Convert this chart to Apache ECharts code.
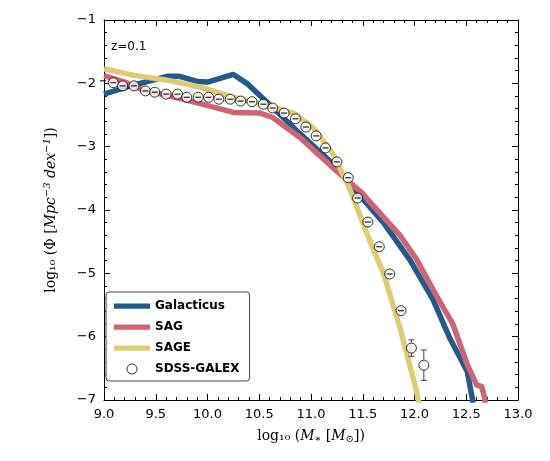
<!DOCTYPE html><html><head><meta charset="utf-8">
<script src="https://cdn.jsdelivr.net/npm/echarts@6/dist/echarts.min.js"></script>
<style>body{margin:0}#c{width:550px;height:461px}</style></head><body><div id="c"></div>
<script>
const galacticus=[[9.0,-2.17],[9.28,-2.03],[9.61,-1.89],[9.73,-1.89],[9.9,-1.97],[10.0,-1.98],[10.25,-1.86],[10.38,-2.0],[10.63,-2.38],[10.89,-2.79],[11.21,-3.27],[11.38,-3.6],[11.7,-4.2],[11.96,-4.8],[12.18,-5.42],[12.34,-6.02],[12.51,-6.55],[12.56,-6.99],[12.58,-7.3]];
const sag=[[9.0,-1.88],[9.2,-1.98],[9.38,-2.11],[9.61,-2.19],[9.93,-2.32],[10.25,-2.46],[10.51,-2.47],[10.63,-2.54],[10.89,-2.85],[11.21,-3.33],[11.5,-3.74],[11.54,-3.82],[11.86,-4.4],[12.02,-4.78],[12.18,-5.26],[12.37,-5.8],[12.51,-6.44],[12.6,-6.76],[12.65,-6.79],[12.68,-6.98],[12.69,-7.3]];
const sage=[[9.0,-1.77],[9.28,-1.87],[9.61,-1.95],[9.93,-2.06],[10.25,-2.22],[10.57,-2.35],[10.83,-2.47],[11.02,-2.7],[11.21,-3.11],[11.35,-3.58],[11.38,-3.69],[11.54,-4.37],[11.7,-5.0],[11.86,-5.86],[12.02,-6.86],[12.07,-7.3]];
const obsX=[8.99,9.09,9.18,9.29,9.40,9.49,9.60,9.71,9.80,9.91,10.01,10.11,10.22,10.32,10.43,10.54,10.63,10.74,10.85,10.95,11.05,11.14,11.25,11.36,11.45,11.55,11.66,11.76,11.87,11.97,12.09];
const obsY=[-1.96,-1.99,-2.04,-2.04,-2.12,-2.14,-2.17,-2.17,-2.22,-2.22,-2.22,-2.25,-2.25,-2.28,-2.29,-2.33,-2.39,-2.47,-2.56,-2.69,-2.83,-3.02,-3.24,-3.49,-3.81,-4.19,-4.58,-5.01,-5.59,-6.18,-6.45];
const obsErr=[0,0,0,0,0,0,0,0,0,0,0,0,0,0,0,0,0,0,0,0,0,0,0,0,0,0,0,0.01,0,0.13,0.24];
const obs=obsX.map((x,i)=>[x,obsY[i],obsErr[i]]);
const ch=echarts.init(document.getElementById('c'));
const lab={fontFamily:'DejaVu Sans',fontSize:13,color:'#000'};
const tk={inside:true,length:6,lineStyle:{color:'#000'}};
const mtk={show:true,length:3,lineStyle:{color:'#000'}};
const ax=(extra)=>Object.assign({axisLine:{show:true,onZero:false,lineStyle:{color:'#000',width:1}},axisTick:tk,minorTick:Object.assign({splitNumber:5},mtk),splitLine:{show:false}},extra);
const lineSer=(name,data,color)=>({name,type:'line',data,symbol:'none',lineStyle:{width:5.5,color,join:'round'},itemStyle:{color},z:2,clip:true});
ch.setOption({
 animation:false,
 grid:{left:104,right:32,top:20,bottom:61},
 title:{text:'z=0.1',left:106,top:36,textStyle:{fontFamily:'DejaVu Sans',fontSize:12,fontWeight:'normal',color:'#000'}},
 xAxis:[ax({type:'value',min:9,max:13,interval:0.5,axisLabel:Object.assign({formatter:v=>v.toFixed(1),margin:8},lab),
   name:'log₁₀ ({i|M}{s|∗} [{i|M}{s|⊙}])',nameLocation:'middle',nameGap:28,
   nameTextStyle:{fontFamily:'DejaVu Serif',fontSize:14,color:'#000',rich:{i:{fontFamily:'DejaVu Serif',fontStyle:'italic',fontSize:14},s:{fontSize:10,verticalAlign:'bottom',padding:[6,0,0,0]}}}}),
  ax({type:'value',position:'top',min:9,max:13,interval:0.5,axisLabel:{show:false}})],
 yAxis:[ax({type:'value',min:-7,max:-1,interval:1,axisLabel:Object.assign({formatter:v=>String(v).replace('-','−'),margin:8},lab),
   name:'log₁₀ (Φ [{i|Mpc}{s|−3} {i|dex}{s|−1}])',nameLocation:'middle',nameGap:44,
   nameTextStyle:{fontFamily:'DejaVu Serif',fontSize:14,color:'#000',rich:{i:{fontFamily:'DejaVu Serif',fontStyle:'italic',fontSize:14},s:{fontFamily:'DejaVu Serif',fontStyle:'italic',fontSize:10,padding:[0,0,8,0]}}}}),
  ax({type:'value',position:'right',min:-7,max:-1,interval:1,axisLabel:{show:false}})],
 legend:{orient:'vertical',left:106,top:292,itemWidth:36,itemHeight:10,itemGap:9,padding:[8,10,6,8],
   borderColor:'#444',borderWidth:1,borderRadius:3,backgroundColor:'#fff',textStyle:{fontFamily:'DejaVu Sans',fontSize:12,fontWeight:'bold',color:'#000'},
   data:[{name:'Galacticus',icon:'path://M0,0h48v7h-48z'},{name:'SAG',icon:'path://M0,0h48v7h-48z'},{name:'SAGE',icon:'path://M0,0h48v7h-48z'},{name:'SDSS-GALEX',icon:'circle',itemStyle:{color:'#fff',borderColor:'#000',borderWidth:1}}]},
 series:[
  lineSer('Galacticus',galacticus,'#25598a'),
  lineSer('SAG',sag,'#cc6677'),
  lineSer('SAGE',sage,'#ddcc77'),
  {name:'SDSS-GALEX',type:'scatter',data:obs,symbol:'circle',symbolSize:10,itemStyle:{color:'#fff',borderColor:'#000',borderWidth:1},z:4},
  {name:'err',type:'custom',data:obs,z:5,renderItem:(p,api)=>{
    const x=api.value(0),y=api.value(1),e=api.value(2);
    const c=api.coord([x,y]);
    const s={stroke:'#222',lineWidth:1.2};
    if(e<0.05) return {type:'line',shape:{x1:c[0]-3,y1:c[1],x2:c[0]+3,y2:c[1]},style:s};
    const a=api.coord([x,y+e]),b=api.coord([x,y-e]);
    const s2={stroke:'#444',lineWidth:1};
    return {type:'group',children:[
      {type:'line',shape:{x1:a[0],y1:a[1],x2:a[0],y2:c[1]-5},style:s2},
      {type:'line',shape:{x1:b[0],y1:c[1]+5,x2:b[0],y2:b[1]},style:s2},
      {type:'line',shape:{x1:a[0]-3,y1:a[1],x2:a[0]+3,y2:a[1]},style:s2},
      {type:'line',shape:{x1:b[0]-3,y1:b[1],x2:b[0]+3,y2:b[1]},style:s2}]};
  }}
 ]
});
</script></body></html>
